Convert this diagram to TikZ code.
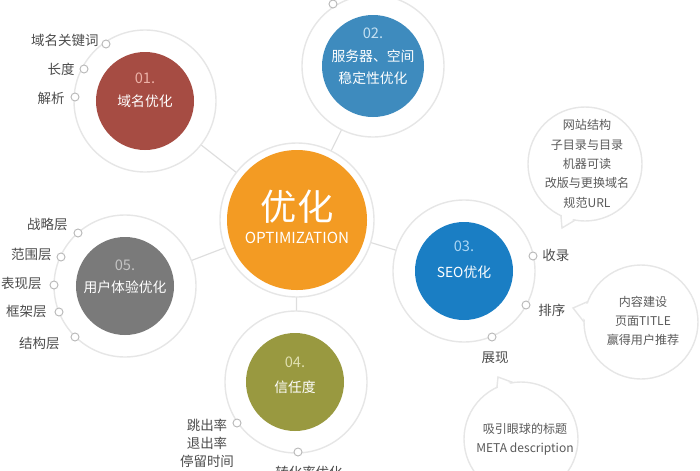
\documentclass[tikz,border=0pt]{standalone}
\usepackage{fontspec}
\setmainfont{Noto Sans CJK SC}
\usetikzlibrary{backgrounds}
\definecolor{ringgray}{RGB}{230,230,230}
\definecolor{linkgray}{RGB}{222,222,222}
\definecolor{dotgray}{RGB}{185,185,185}
\definecolor{labgray}{RGB}{75,75,75}
\definecolor{bubgray}{RGB}{90,90,90}
\definecolor{orangeC}{RGB}{243,155,35}
\definecolor{redC}{RGB}{166,76,67}
\definecolor{blueA}{RGB}{62,139,190}
\definecolor{blueB}{RGB}{26,126,196}
\definecolor{oliveC}{RGB}{153,153,64}
\definecolor{grayC}{RGB}{122,122,122}
\definecolor{numred}{RGB}{236,178,168}
\definecolor{numblueA}{RGB}{196,224,242}
\definecolor{numblueB}{RGB}{170,214,244}
\definecolor{numolive}{RGB}{224,224,176}
\definecolor{numgray}{RGB}{196,196,196}
\begin{document}
\begin{tikzpicture}[x=0.03cm, y=-0.03cm,
    ring/.style={circle, draw=ringgray, line width=1.2pt, fill=white, minimum size=4.26cm, inner sep=0pt},
    ball/.style={circle, fill=#1, minimum size=2.94cm, inner sep=0pt},
    num/.style={text=#1, font=\fontsize{12.5}{12.5}\selectfont},
    inlab/.style={text=white, font=\fontsize{11.8}{19}\selectfont, align=center},
    dot/.style={circle, draw=dotgray, line width=0.8pt, fill=white, minimum size=0.24cm, inner sep=0pt},
    lab/.style={text=labgray, font=\fontsize{11.5}{15.5}\selectfont, inner sep=1pt, align=center},
    bubble/.style={circle, draw=ringgray, line width=1.2pt, fill=white, minimum size=3.42cm, inner sep=0pt},
    bubtxt/.style={text=bubgray, align=center, font=\fontsize{10.3}{16.5}\selectfont}]

    \useasboundingbox (0,0) rectangle (700,470);

    % rings
    \node[ring, minimum size=4.62cm] (r0) at (297,220) {};
    \node[ring] (r1) at (145,101) {};
    \node[ring] (r2) at (373,66) {};
    \node[ring] (r3) at (464,271) {};
    \node[ring] (r4) at (296,382) {};
    \node[ring] (r5) at (125,286) {};
    \begin{scope}[on background layer]
        \foreach \i in {1,...,5} \draw[linkgray, line width=1pt] (r0.center) -- (r\i.center);
    \end{scope}

    % balls
    \node[ball=orangeC, minimum size=4.2cm] (c0) at (297,220) {};
    \node[text=white, font=\fontsize{31}{31}\selectfont] (t0) at (297,207) {优化};
    \node[text=white, font=\fontsize{13}{13}\selectfont] (s0) at (297,238) {OPTIMIZATION};

    \node[ball=redC] (c1) at (145,101) {};
    \node[num=numred] (n1) at (145,78) {01.};
    \node[inlab] (t1) at (145,101) {域名优化};

    \node[ball=blueA, minimum size=3.06cm] (c2) at (373,66) {};
    \node[num=numblueA] (n2) at (373,33) {02.};
    \node[inlab] (t2) at (373,67) {服务器、空间\\稳定性优化};

    \node[ball=blueB] (c3) at (464,271) {};
    \node[num=numblueB] (n3) at (464,246) {03.};
    \node[inlab] (t3) at (464,272) {SEO优化};

    \node[ball=oliveC] (c4) at (295,382) {};
    \node[num=numolive] (n4) at (295,362) {04.};
    \node[inlab] (t4) at (295,387) {信任度};

    \node[ball=grayC] (c5) at (125,286) {};
    \node[num=numgray] (n5) at (125,265) {05.};
    \node[inlab] (t5) at (125,287) {用户体验优化};

    % 01 labels
    \node[dot] (d11) at (106,44) {};
    \node[lab, anchor=east] (l11) at (100,40) {域名关键词};
    \node[dot] (d12) at (84,69) {};
    \node[lab, anchor=east] (l12) at (76,69) {长度};
    \node[dot] (d13) at (75,97) {};
    \node[lab, anchor=east] (l13) at (66,98) {解析};

    % 02
    \node[dot] (d21) at (333,4) {};

    % 03 labels
    \node[dot] (d31) at (533,256) {};
    \node[lab, anchor=west] (l31) at (541,255) {收录};
    \node[dot] (d32) at (526,305) {};
    \node[lab, anchor=west] (l32) at (537,310) {排序};
    \node[dot] (d33) at (492,337) {};
    \node[lab] (l33) at (495,358) {展现};

    % 04 labels
    \node[dot] (d41) at (237,423) {};
    \node[lab] (l41) at (207,443) {跳出率\\退出率\\停留时间};
    \node[dot] (d42) at (298,452) {};
    \node[lab] (l42) at (309,472) {转化率优化};

    % 05 labels
    \node[dot] (d51) at (78,233) {};
    \node[lab, anchor=east] (l51) at (69,224) {战略层};
    \node[dot] (d52) at (61,257) {};
    \node[lab, anchor=east] (l52) at (53,254) {范围层};
    \node[dot] (d53) at (54,285) {};
    \node[lab, anchor=east] (l53) at (43,283) {表现层};
    \node[dot] (d54) at (59,312) {};
    \node[lab, anchor=east] (l54) at (48,311) {框架层};
    \node[dot] (d55) at (75,337) {};
    \node[lab, anchor=east] (l55) at (61,343) {结构层};

    % bubbles
    \node[bubble] (b1) at (585,164) {};
    \coordinate (b1tip) at (562,228);
    \fill[white] ([shift={(100:54)}]b1.center) -- (b1tip) -- ([shift={(115:54)}]b1.center) -- cycle;
    \draw[ringgray, line width=1.2pt] ([shift={(100:57)}]b1.center) -- (b1tip) -- ([shift={(115:57)}]b1.center);
    \node[bubtxt] (w1) at (587,164) {网站结构\\子目录与目录\\机器可读\\改版与更换域名\\规范URL};

    \node[bubble] (b2) at (641,322) {};
    \coordinate (b2tip) at (573,308);
    \fill[white] ([shift={(180:54)}]b2.center) -- (b2tip) -- ([shift={(201:54)}]b2.center) -- cycle;
    \draw[ringgray, line width=1.2pt] ([shift={(180:57)}]b2.center) -- (b2tip) -- ([shift={(201:57)}]b2.center);
    \node[bubtxt] (w2) at (643,321) {内容建设\\页面TITLE\\赢得用户推荐};

    \node[bubble] (b3) at (521,439) {};
    \coordinate (b3tip) at (498,377);
    \fill[white] ([shift={(245:54)}]b3.center) -- (b3tip) -- ([shift={(262:54)}]b3.center) -- cycle;
    \draw[ringgray, line width=1.2pt] ([shift={(245:57)}]b3.center) -- (b3tip) -- ([shift={(262:57)}]b3.center);
    \node[bubtxt] (w3) at (525,439) {吸引眼球的标题\\META description};
\end{tikzpicture}
\end{document}
